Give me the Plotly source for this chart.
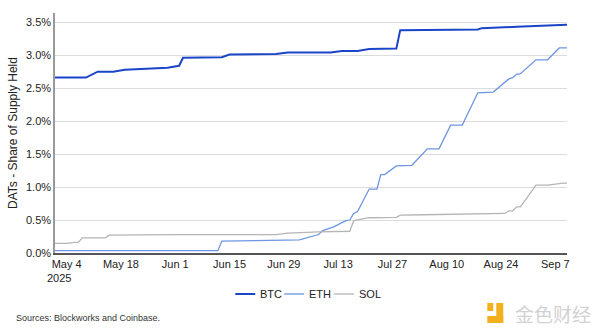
import plotly.graph_objects as go

# BTC share of supply held by digital asset treasuries (%)
btc_dates = ["2025-05-01", "2025-05-09", "2025-05-12", "2025-05-16", "2025-05-19",
             "2025-05-30", "2025-06-02", "2025-06-03", "2025-06-13", "2025-06-15",
             "2025-06-27", "2025-06-30", "2025-07-11", "2025-07-14", "2025-07-18",
             "2025-07-21", "2025-07-28", "2025-07-29", "2025-08-18", "2025-08-19",
             "2025-08-28", "2025-09-07", "2025-09-10"]
btc_vals = [2.66, 2.66, 2.75, 2.75, 2.78,
            2.81, 2.84, 2.96, 2.97, 3.01,
            3.02, 3.04, 3.04, 3.065, 3.065,
            3.095, 3.10, 3.38, 3.39, 3.41,
            3.43, 3.45, 3.46]

# ETH share of supply held (%)
eth_dates = ["2025-05-01", "2025-06-12", "2025-06-13", "2025-06-24", "2025-07-03",
             "2025-07-08", "2025-07-09", "2025-07-12", "2025-07-15", "2025-07-16",
             "2025-07-17", "2025-07-18", "2025-07-21", "2025-07-23", "2025-07-24",
             "2025-07-25", "2025-07-28", "2025-08-01", "2025-08-05", "2025-08-08",
             "2025-08-11", "2025-08-14", "2025-08-18", "2025-08-22", "2025-08-26",
             "2025-08-27", "2025-08-28", "2025-08-29", "2025-09-02", "2025-09-05",
             "2025-09-08", "2025-09-10"]
eth_vals = [0.035, 0.035, 0.18, 0.19, 0.20,
            0.28, 0.34, 0.40, 0.49, 0.50,
            0.60, 0.63, 0.97, 0.97, 1.19,
            1.19, 1.32, 1.33, 1.58, 1.58,
            1.94, 1.94, 2.43, 2.44, 2.64,
            2.66, 2.71, 2.72, 2.93, 2.93,
            3.11, 3.11]

# SOL share of supply held (%)
sol_dates = ["2025-05-01", "2025-05-04", "2025-05-06", "2025-05-07", "2025-05-08",
             "2025-05-14", "2025-05-15", "2025-06-01", "2025-06-27", "2025-06-30",
             "2025-07-08", "2025-07-16", "2025-07-17", "2025-07-21", "2025-07-28",
             "2025-07-29", "2025-08-04", "2025-08-15", "2025-08-16", "2025-08-25",
             "2025-08-26", "2025-08-27", "2025-08-28", "2025-08-29", "2025-09-02",
             "2025-09-05", "2025-09-09", "2025-09-10"]
sol_vals = [0.145, 0.145, 0.16, 0.16, 0.23,
            0.23, 0.27, 0.28, 0.28, 0.30,
            0.32, 0.33, 0.49, 0.535, 0.54,
            0.575, 0.58, 0.59, 0.60, 0.60,
            0.64, 0.64, 0.70, 0.70, 1.03,
            1.03, 1.06, 1.06]

tick_dates = ["2025-05-04", "2025-05-18", "2025-06-01", "2025-06-15", "2025-06-29",
              "2025-07-13", "2025-07-27", "2025-08-10", "2025-08-24", "2025-09-07"]
tick_labels = ["May 4", "May 18", "Jun 1", "Jun 15", "Jun 29",
               "Jul 13", "Jul 27", "Aug 10", "Aug 24", "Sep 7"]
y_ticks = [0, 0.5, 1.0, 1.5, 2.0, 2.5, 3.0, 3.5]

series_names = ["BTC", "ETH", "SOL"]
series_colors = ["#1a45c8", "#6e95e2", "#b5b5b5"]
series_widths = [2, 1.3, 1.3]

FONT = "Liberation Sans, Arial, sans-serif"

# plot area in pixels, used to place the compact legend and footer items
L, R, T, B = 53, 567, 13, 253
PW, PH = R - L, B - T


def px(x):
    return (x - L) / PW


def py(y):
    return (B - y) / PH


fig = go.Figure()
for name, dates, vals, color, width in zip(series_names,
                                           [btc_dates, eth_dates, sol_dates],
                                           [btc_vals, eth_vals, sol_vals],
                                           series_colors, series_widths):
    fig.add_trace(go.Scatter(x=dates, y=vals, name=name, mode="lines",
                             line=dict(color=color, width=width)))

annotations = [
    dict(text="2025", x=px(57), y=py(278), xref="paper", yref="paper",
         xanchor="center", yanchor="middle", showarrow=False,
         font=dict(size=11, color="#222222")),
    dict(text="Sources: Blockworks and Coinbase.", x=px(12), y=py(318),
         xref="paper", yref="paper", xanchor="left", yanchor="middle",
         showarrow=False, font=dict(size=9, color="#333333")),
    dict(text="金色财经", x=px(593), y=py(313), xref="paper", yref="paper",
         xanchor="right", yanchor="middle", showarrow=False,
         font=dict(family="Noto Sans CJK SC", size=19, color="#d2d2d2")),
]
shapes = []

# compact horizontal legend: short line swatch followed by the series name
legend_x = [234, 283, 333]
legend_y = 294
for name, color, width, x0 in zip(series_names, series_colors, series_widths, legend_x):
    shapes.append(dict(type="line", xref="paper", yref="paper",
                       x0=px(x0), x1=px(x0 + 20), y0=py(legend_y), y1=py(legend_y),
                       line=dict(color=color, width=width)))
    annotations.append(dict(text=name, x=px(x0 + 23), y=py(legend_y),
                            xref="paper", yref="paper", xanchor="left",
                            yanchor="middle", showarrow=False,
                            font=dict(size=11, color="#222222")))

# small logo mark next to the watermark text
for x0, x1, y0, y1 in [(487, 493, 303, 311), (496, 503, 303, 323), (487, 503, 316, 323)]:
    shapes.append(dict(type="rect", xref="paper", yref="paper",
                       x0=px(x0), x1=px(x1), y0=py(y1), y1=py(y0),
                       fillcolor="#f2b01e", line=dict(width=0)))

fig.update_layout(
    width=600, height=333,
    margin=dict(l=L, r=600 - R, t=T, b=333 - B),
    paper_bgcolor="white", plot_bgcolor="white",
    font=dict(family=FONT, size=11, color="#222222"),
    showlegend=False,
    xaxis=dict(type="date", range=["2025-05-01", "2025-09-10"],
               tickvals=tick_dates, ticktext=tick_labels, ticks="",
               showgrid=False, zeroline=False,
               showline=True, linecolor="#555555", linewidth=1.5,
               tickfont=dict(size=11, color="#222222")),
    yaxis=dict(range=[0, 3.64], tickvals=y_ticks,
               ticktext=[f"{v:.1f}%" for v in y_ticks], ticks="",
               showgrid=True, gridcolor="#dcdcdc", gridwidth=1, zeroline=False,
               showline=True, linecolor="#9a9a9a", linewidth=1.5,
               title=dict(text="DATs - Share of Supply Held", standoff=6,
                          font=dict(size=12, color="#222222")),
               tickfont=dict(size=11, color="#222222")),
    annotations=annotations,
    shapes=shapes,
)

fig.write_html("out.html")
